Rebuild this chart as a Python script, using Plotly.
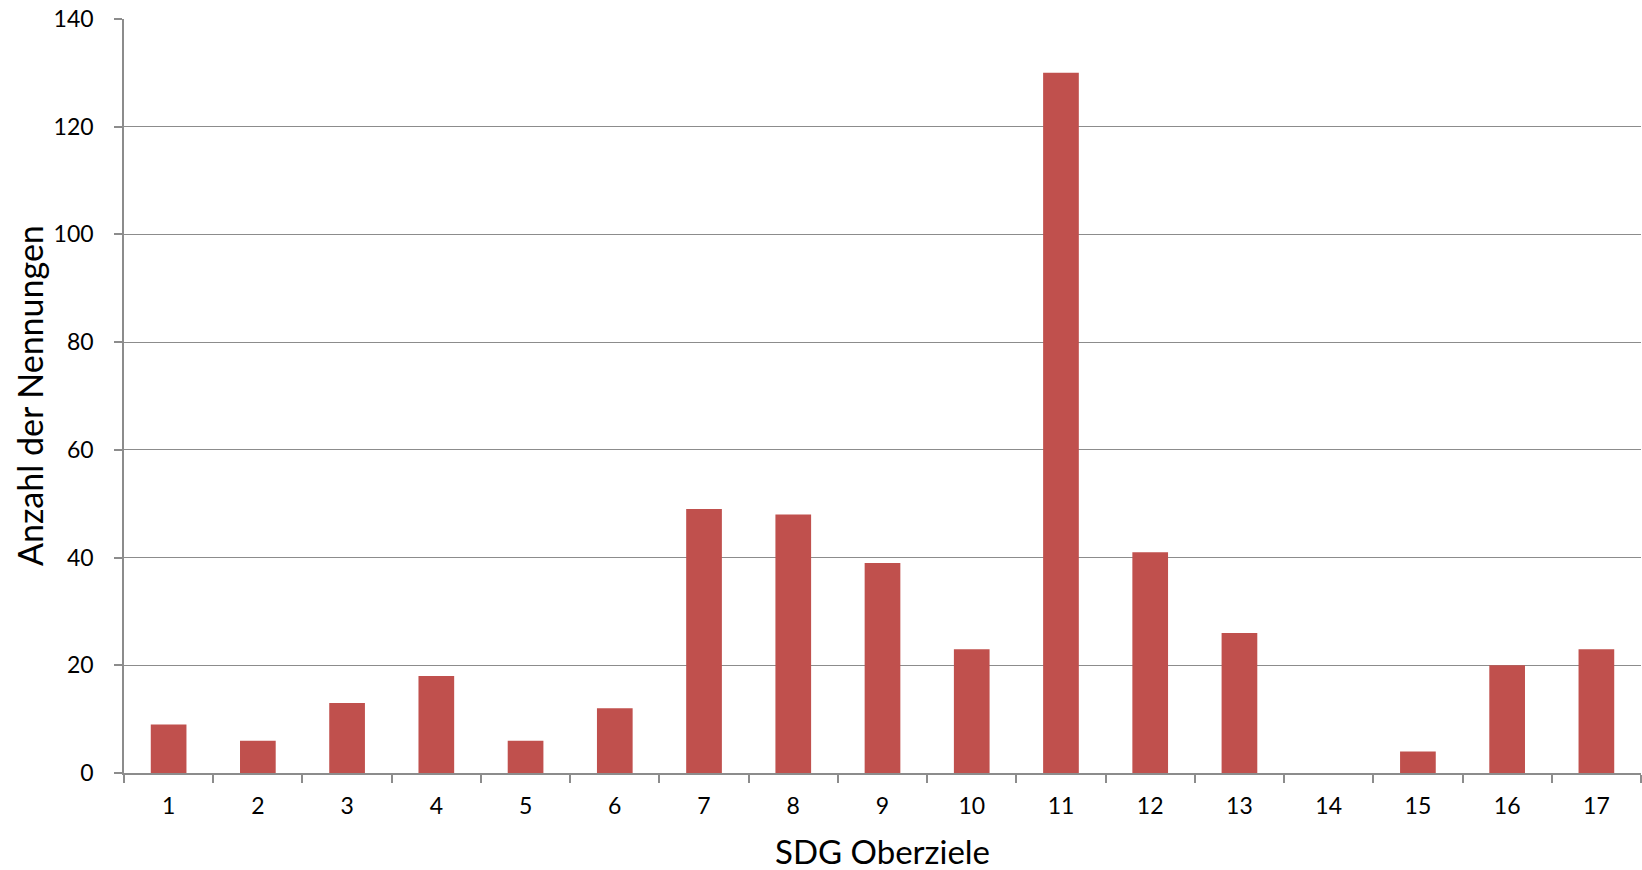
import plotly.graph_objects as go

categories = [str(i) for i in range(1, 18)]
values = [9, 6, 13, 18, 6, 12, 49, 48, 39, 23, 130, 41, 26, 0, 4, 20, 23]
y_ticks = [0, 20, 40, 60, 80, 100, 120, 140]

x_title = "SDG Oberziele"
y_title = "Anzahl der Nennungen"

FONT = "Lato, Carlito, 'Open Sans', sans-serif"
GRID = "#8c8c8c"

fig = go.Figure()
fig.add_trace(go.Bar(
    x=categories, y=values,
    marker=dict(color="#C0504D", line=dict(width=0)),
))

fig.update_layout(
    width=1642, height=870,
    margin=dict(l=124, r=1, t=19, b=97),
    paper_bgcolor="white", plot_bgcolor="white",
    bargap=0.6,
    showlegend=False,
    font=dict(family=FONT, color="black"),
    xaxis=dict(
        type="category",
        showline=True, linecolor=GRID, linewidth=1.5,
        ticks="outside", ticklen=8, tickcolor=GRID, tickwidth=1.5,
        tickson="boundaries",
        showgrid=False,
        tickfont=dict(size=23, family=FONT, color="black"),
        ticklabelstandoff=12,
    ),
    yaxis=dict(
        range=[0, 140], tickvals=y_ticks,
        showline=True, linecolor=GRID, linewidth=1.5,
        ticks="outside", ticklen=8, tickcolor=GRID, tickwidth=1.5,
        showgrid=True, gridcolor=GRID, gridwidth=1.2,
        zeroline=False,
        tickfont=dict(size=23, family=FONT, color="black"),
        ticklabelstandoff=16,
    ),
    annotations=[
        dict(text=x_title, xref="paper", yref="paper", x=0.5, y=0,
             yshift=-78, xanchor="center", yanchor="middle", showarrow=False,
             font=dict(size=33, family=FONT, color="black")),
        dict(text=y_title, xref="paper", yref="paper", x=0, y=0.5,
             xshift=-95, xanchor="center", yanchor="middle", showarrow=False,
             textangle=-90,
             font=dict(size=34, family=FONT, color="black")),
    ],
)

fig.write_html("out.html")
